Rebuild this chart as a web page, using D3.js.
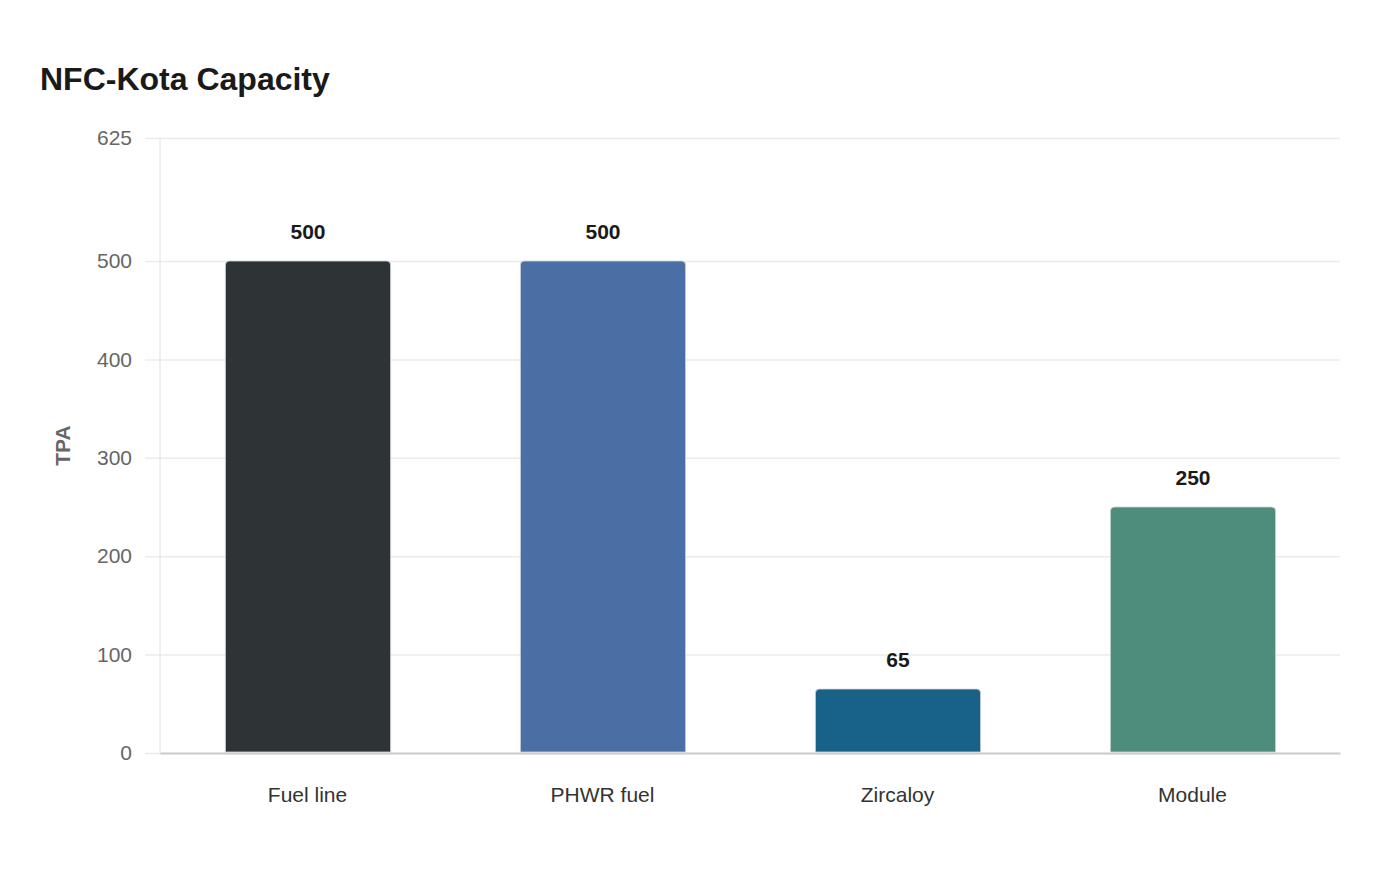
<!DOCTYPE html>
<html>
<head>
<meta charset="utf-8">
<script src="https://cdn.jsdelivr.net/npm/d3@7"></script>
<style>
  body { margin: 0; background: #fff; font-family: "Liberation Sans", Arial, sans-serif; }
</style>
</head>
<body>
<div id="chart"></div>
<script>
const categories = ["Fuel line", "PHWR fuel", "Zircaloy", "Module"];
const values = [500, 500, 65, 250];
const colors = ["#2e3436", "#4a6fa5", "#186187", "#4e8d7b"];
const yTicks = [0, 100, 200, 300, 400, 500, 625];

const width = 1400, height = 880;
const margin = { top: 138, right: 60, bottom: 127, left: 160 };
const innerW = width - margin.left - margin.right;
const innerH = height - margin.top - margin.bottom;

const svg = d3.select("#chart").append("svg")
  .attr("width", width)
  .attr("height", height);

svg.append("text")
  .attr("x", 40)
  .attr("y", 90)
  .attr("font-size", 32)
  .attr("font-weight", "bold")
  .attr("fill", "#1a1a1a")
  .text("NFC-Kota Capacity");

const g = svg.append("g").attr("transform", `translate(${margin.left},${margin.top})`);

const x = d3.scaleBand().domain(categories).range([0, innerW]).paddingInner(0.44).paddingOuter(0.22);
const y = d3.scaleLinear().domain([0, 625]).range([innerH, 0]);

// grid + y axis
const yAxis = g.append("g")
  .call(d3.axisLeft(y).tickValues(yTicks).tickSize(-innerW - 15).tickPadding(12));
yAxis.select(".domain").remove();
yAxis.selectAll(".tick line")
  .attr("x1", -15).attr("x2", innerW)
  .attr("stroke", "#ebebeb").attr("stroke-width", 1.5);
yAxis.selectAll(".tick text")
  .attr("x", -28)
  .attr("font-size", 21)
  .attr("font-family", "Liberation Sans, Arial, sans-serif")
  .attr("fill", "#666");

g.append("line")
  .attr("x1", 0).attr("x2", 0).attr("y1", 0).attr("y2", innerH)
  .attr("stroke", "#e0e0e0").attr("stroke-width", 1);

// bars with rounded tops
const r = 4;
function barPath(d, i) {
  const x0 = x(categories[i]) + 0.5, w = x.bandwidth();
  const top = y(d), bot = y(0) - 1;
  return `M${x0},${bot}V${top + r}Q${x0},${top} ${x0 + r},${top}H${x0 + w - r}Q${x0 + w},${top} ${x0 + w},${top + r}V${bot}Z`;
}
g.selectAll(".bar")
  .data(values)
  .enter()
  .append("path")
  .attr("class", "bar")
  .attr("d", barPath)
  .attr("fill", (d, i) => colors[i])
  .attr("stroke", "rgba(210,214,220,0.8)")
  .attr("stroke-width", 1);

g.selectAll(".val")
  .data(values)
  .enter()
  .append("text")
  .attr("x", (d, i) => x(categories[i]) + x.bandwidth() / 2 + 0.5)
  .attr("y", d => y(d) - 22)
  .attr("text-anchor", "middle")
  .attr("font-size", 21)
  .attr("font-weight", "bold")
  .attr("fill", "#1a1a1a")
  .text(d => d);

// x axis
const xAxis = g.append("g")
  .attr("transform", `translate(0,${innerH})`)
  .call(d3.axisBottom(x).tickSize(0).tickPadding(34));
xAxis.select(".domain").attr("stroke", "#cccccc").attr("stroke-width", 2);
xAxis.selectAll(".tick text")
  .attr("font-size", 21)
  .attr("font-family", "Liberation Sans, Arial, sans-serif")
  .attr("fill", "#333");

svg.append("text")
  .attr("transform", `translate(70,${margin.top + innerH / 2}) rotate(-90)`)
  .attr("text-anchor", "middle")
  .attr("font-size", 21)
  .attr("font-weight", "bold")
  .attr("fill", "#666")
  .text("TPA");
</script>
</body>
</html>
